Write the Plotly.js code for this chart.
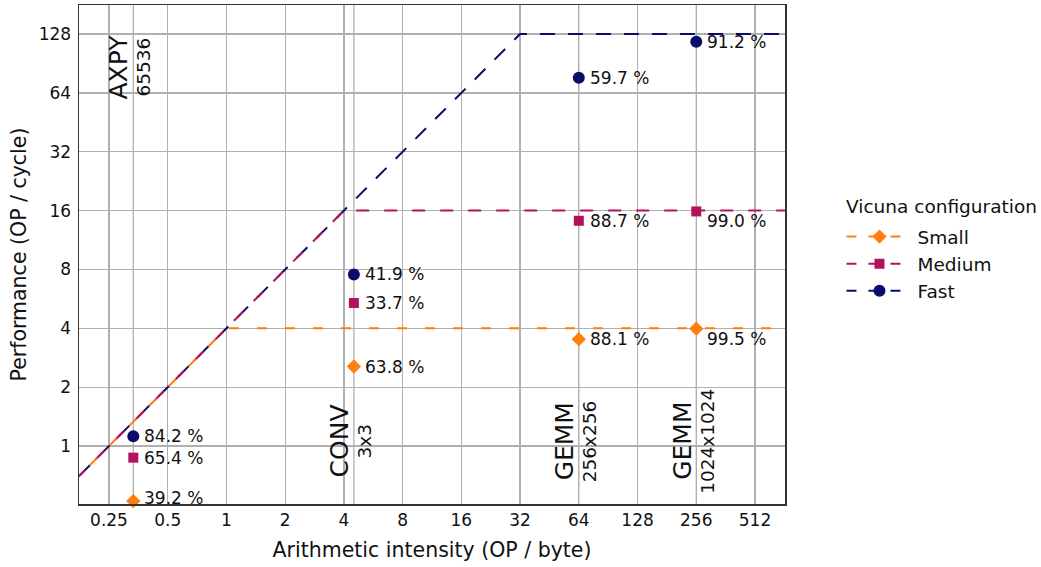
<!DOCTYPE html>
<html>
<head>
<meta charset="utf-8">
<script src="https://cdn.plot.ly/plotly-3.0.1.min.js"></script>
<style>html,body{margin:0;padding:0;background:#fff;}#chart{width:1041px;height:567px;}</style>
</head>
<body>
<div id="chart"></div>
<script>
// ---------- data ----------
const configNames = ['Small', 'Medium', 'Fast'];
const kernelNames = ['AXPY', 'CONV', 'GEMM', 'GEMM'];
const kernelSizes = ['65536', '3x3', '256x256', '1024x1024'];
const kernelIntensity = [0.333, 4.5, 64, 256];

const smallPerf = [0.523, 2.55, 3.52, 3.98];
const mediumPerf = [0.872, 5.39, 14.19, 15.84];
const fastPerf = [1.123, 7.54, 76.4, 116.7];

const smallPct = ['39.2 %', '63.8 %', '88.1 %', '99.5 %'];
const mediumPct = ['65.4 %', '33.7 %', '88.7 %', '99.0 %'];
const fastPct = ['84.2 %', '41.9 %', '59.7 %', '91.2 %'];

// roofline corner points
const smallRoofX = [0.125, 1, 1024];
const smallRoofY = [0.5, 4, 4];
const mediumRoofX = [0.125, 4, 1024];
const mediumRoofY = [0.5, 16, 16];
const fastRoofX = [0.125, 32, 1024];
const fastRoofY = [0.5, 128, 128];

const xTickVals = [0.25, 0.5, 1, 2, 4, 8, 16, 32, 64, 128, 256, 512];
const xTickText = ['0.25', '0.5', '1', '2', '4', '8', '16', '32', '64', '128', '256', '512'];
const yTickVals = [1, 2, 4, 8, 16, 32, 64, 128];
const yTickText = ['1', '2', '4', '8', '16', '32', '64', '128'];

// ---------- styles ----------
const FONT = 'DejaVu Sans, sans-serif';
const colors = {Small: '#ff7f0e', Medium: '#b3135c', Fast: '#0b0b6b'};
const symbols = {Small: 'diamond', Medium: 'square', Fast: 'circle'};
const msize = {Small: 11, Medium: 10, Fast: 12};
const dashes = {Fast: '0px,13px,15px,0px', Medium: '0px,8px,13px,7px', Small: '10px,18px'};
const kernelLabelY = [87, 1.06, 1.06, 1.06];
const pctYShift = {Small: [3, 0, 0, -10], Medium: [0, 0, 0, -10], Fast: [0, 0, 0, 0]};

const perf = {Small: smallPerf, Medium: mediumPerf, Fast: fastPerf};
const pct = {Small: smallPct, Medium: mediumPct, Fast: fastPct};
const roofs = {
  Small: [smallRoofX, smallRoofY],
  Medium: [mediumRoofX, mediumRoofY],
  Fast: [fastRoofX, fastRoofY]
};

const traces = [];
['Fast', 'Medium', 'Small'].forEach(c => {
  traces.push({
    x: roofs[c][0], y: roofs[c][1], type: 'scatter', mode: 'lines',
    line: {color: colors[c], width: 2, dash: dashes[c]},
    showlegend: false, hoverinfo: 'skip'
  });
});
configNames.forEach(c => {
  traces.push({
    x: kernelIntensity, y: perf[c], type: 'scatter', mode: 'markers',
    marker: {color: colors[c], symbol: symbols[c], size: msize[c]},
    cliponaxis: false, showlegend: false
  });
});
configNames.forEach((c, i) => {
  traces.push({
    x: [null], y: [null], type: 'scatter', mode: 'lines+markers', name: c,
    legendrank: i + 1,
    line: {color: colors[c], width: 2, dash: '10px,12px'},
    marker: {color: colors[c], symbol: symbols[c], size: msize[c]}
  });
});

const annotations = [];
configNames.forEach(c => {
  kernelIntensity.forEach((x, i) => {
    annotations.push({
      x: Math.log10(x), y: Math.log10(perf[c][i]), xref: 'x', yref: 'y',
      text: pct[c][i], showarrow: false, xanchor: 'left', yanchor: 'middle',
      xshift: 9, yshift: pctYShift[c][i],
      font: {family: FONT, size: 17, color: '#111'}
    });
  });
});
kernelIntensity.forEach((x, i) => {
  annotations.push({
    x: Math.log10(x), y: Math.log10(kernelLabelY[i]), xref: 'x', yref: 'y',
    text: kernelNames[i], showarrow: false, textangle: -90,
    xanchor: 'right', yanchor: 'middle', xshift: 2,
    font: {family: FONT, size: 25, color: '#111'}
  });
  annotations.push({
    x: Math.log10(x), y: Math.log10(kernelLabelY[i]), xref: 'x', yref: 'y',
    text: kernelSizes[i], showarrow: false, textangle: -90,
    xanchor: 'left', yanchor: 'middle', xshift: -2,
    font: {family: FONT, size: 18.5, color: '#111'}
  });
});
// legend title as text
annotations.push({
  x: 1.083, y: 0.596, xref: 'paper', yref: 'paper', xanchor: 'left', yanchor: 'middle',
  text: 'Vicuna configuration', showarrow: false,
  font: {family: FONT, size: 18.5, color: '#111'}
});

const shapes = kernelIntensity.map(x => ({
  type: 'line', xref: 'x', yref: 'paper', x0: x, x1: x, y0: 0, y1: 1,
  line: {color: '#b0b0b0', width: 1.3}, layer: 'below'
}));

const layout = {
  width: 1041, height: 567,
  margin: {l: 79, r: 256, t: 5, b: 63},
  paper_bgcolor: '#fff', plot_bgcolor: '#fff',
  font: {family: FONT, size: 17, color: '#111'},
  xaxis: {
    type: 'log', range: [-0.7559, 2.8631],
    tickvals: xTickVals, ticktext: xTickText,
    showgrid: true, gridcolor: '#b0b0b0', gridwidth: 1.3,
    showline: true, mirror: true, linecolor: '#333', linewidth: 1.5,
    zeroline: false, ticks: '', tickfont: {size: 17},
    title: {text: 'Arithmetic intensity (OP / byte)', font: {size: 20.5}, standoff: 13}
  },
  yaxis: {
    type: 'log', range: [-0.2966, 2.2556],
    tickvals: yTickVals, ticktext: yTickText,
    showgrid: true, gridcolor: '#b0b0b0', gridwidth: 1.3,
    showline: true, mirror: true, linecolor: '#333', linewidth: 1.5,
    zeroline: false, ticks: '', tickfont: {size: 17}, ticklabelstandoff: 3,
    title: {text: 'Performance (OP / cycle)', font: {size: 20.5}, standoff: 6}
  },
  legend: {
    x: 1.08, xanchor: 'left', y: 0.573, yanchor: 'top',
    font: {size: 18.5}, itemwidth: 66, bgcolor: 'rgba(0,0,0,0)', traceorder: 'normal'
  },
  showlegend: true,
  annotations: annotations,
  shapes: shapes
};

Plotly.newPlot('chart', traces, layout, {displayModeBar: false, staticPlot: true});
</script>
</body>
</html>
